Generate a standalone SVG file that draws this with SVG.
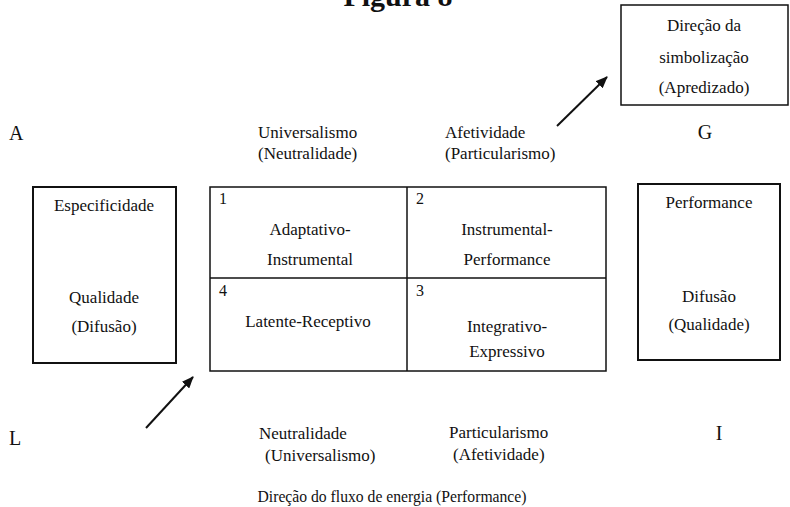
<svg xmlns="http://www.w3.org/2000/svg" width="790" height="507" viewBox="0 0 790 507">
<style>
text{font-family:"Liberation Serif","Times New Roman",serif;font-size:17px;fill:#111}
.c{text-anchor:middle}
.big{font-size:20px}
.num{font-size:16px}
.box{fill:none;stroke:#111;stroke-width:2}
.thin{fill:none;stroke:#111;stroke-width:1.5}
.arr{stroke:#111;stroke-width:2;fill:none;marker-end:url(#ah)}
</style>
<defs>
<marker id="ah" markerWidth="12" markerHeight="10" refX="11" refY="5" orient="auto" markerUnits="userSpaceOnUse">
<path d="M0,0 L12,5 L0,10 Z" fill="#111"/>
</marker>
</defs>
<rect width="790" height="507" fill="#fff"/>
<text x="398" y="6" class="c" style="font-size:30px;font-weight:bold">Figura 8</text>

<g id="simbolizacao">
<rect x="621" y="5" width="167" height="100" class="thin"/>
<text x="704" y="31" class="c">Direção da</text>
<text x="704" y="63" class="c">simbolização</text>
<text x="704" y="93" class="c">(Apredizado)</text>
</g>

<g id="labels-corners">
<text x="9" y="140" class="big">A</text>
<text x="705" y="139" class="big c">G</text>
<text x="9" y="445" class="big">L</text>
<text x="719" y="440" class="big c">I</text>
</g>

<g id="top-labels">
<text x="258" y="138">Universalismo</text>
<text x="258" y="159">(Neutralidade)</text>
<text x="445" y="138">Afetividade</text>
<text x="445" y="159">(Particularismo)</text>
</g>

<g id="especificidade">
<rect x="33" y="187" width="143" height="176" class="box"/>
<text x="104" y="211" class="c">Especificidade</text>
<text x="104" y="303" class="c">Qualidade</text>
<text x="104" y="332" class="c">(Difusão)</text>
</g>

<g id="grid">
<rect x="210" y="187" width="396" height="184" class="thin"/>
<line x1="407" y1="187" x2="407" y2="371" class="thin"/>
<line x1="210" y1="278" x2="606" y2="278" class="thin"/>
</g>
<g id="q1">
<text x="219" y="204" class="num">1</text>
<text x="310" y="235" class="c">Adaptativo-</text>
<text x="310" y="265" class="c">Instrumental</text>
</g>
<g id="q2">
<text x="416" y="204" class="num">2</text>
<text x="507" y="235" class="c">Instrumental-</text>
<text x="507" y="265" class="c">Performance</text>
</g>
<g id="q4">
<text x="219" y="296" class="num">4</text>
<text x="308" y="327" class="c">Latente-Receptivo</text>
</g>
<g id="q3">
<text x="416" y="296" class="num">3</text>
<text x="507" y="332" class="c">Integrativo-</text>
<text x="507" y="357" class="c">Expressivo</text>
</g>

<g id="performance">
<rect x="638" y="184" width="142" height="176" class="box"/>
<text x="709" y="208" class="c">Performance</text>
<text x="709" y="302" class="c">Difusão</text>
<text x="709" y="330" class="c">(Qualidade)</text>
</g>

<g id="bottom-labels">
<text x="259" y="439">Neutralidade</text>
<text x="265" y="461">(Universalismo)</text>
<text x="449" y="438">Particularismo</text>
<text x="453" y="460">(Afetividade)</text>
<text x="392" y="502" class="c" textLength="269" lengthAdjust="spacingAndGlyphs">Direção do fluxo de energia (Performance)</text>
</g>

<g id="connectors">
<line x1="557" y1="126" x2="607" y2="77" class="arr"/>
<line x1="146" y1="428" x2="193" y2="377" class="arr"/>
</g>
</svg>
